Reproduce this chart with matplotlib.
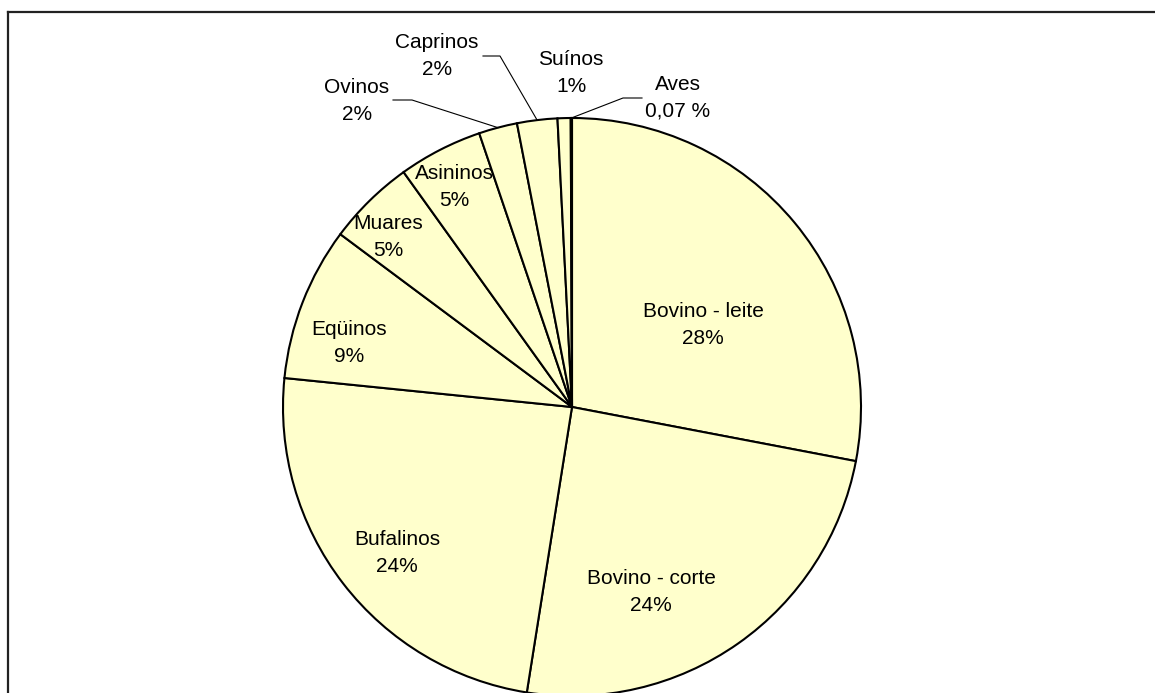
import matplotlib.pyplot as plt
import numpy as np

plt.rcParams['font.family'] = ['Liberation Sans', 'DejaVu Sans']

categories = ['Bovino - leite', 'Bovino - corte', 'Bufalinos', 'Eqüinos', 'Muares',
              'Asininos', 'Ovinos', 'Caprinos', 'Suínos', 'Aves']
shares = [28.0, 24.5, 24.1, 8.6, 4.9, 4.7, 2.15, 2.25, 0.73, 0.07]

# layout in pixel coordinates (origin top-left)
W, H = 1155, 693
CX, CY, R = 572, 407, 289
label_pos = [(703, 325), (651, 592), (397, 553), (349, 343), (388, 237),
             (454, 187), (357, 101), (437, 56), (571, 73), (678, 98)]
# elbow points for the outside labels: (start of horizontal, elbow)
leaders = {'Ovinos': [(393, 100), (412, 100)],
           'Caprinos': [(483, 56), (500, 56)],
           'Aves': [(642, 98), (623, 98)]}


def fmt(v):
    if v < 0.5:
        return f"{v:.2f}".replace('.', ',') + ' %'
    return f"{round(v):.0f}%"


def px(x, y):
    return x, H - y


fig = plt.figure(figsize=(W / 100, H / 100), dpi=100)
ax = fig.add_axes([0, 0, 1, 1])

wedges, _ = ax.pie(shares, startangle=90, counterclock=False,
                   center=px(CX, CY), radius=R,
                   colors=['#FFFFCC'] * len(shares),
                   wedgeprops=dict(edgecolor='black', linewidth=1.5))
ax.set_xlim(0, W)
ax.set_ylim(0, H)
ax.set_aspect('equal')
ax.axis('off')

for w, name, v, (lx, ly) in zip(wedges, categories, shares, label_pos):
    ax.text(*px(lx, ly), f"{name}\n{fmt(v)}", ha='center', va='center',
            fontsize=15, linespacing=1.5)
    if name in leaders:
        mid = np.deg2rad((w.theta1 + w.theta2) / 2)
        ex, ey = w.center[0] + R * np.cos(mid), w.center[1] + R * np.sin(mid)
        pts = [px(*p) for p in leaders[name]] + [(ex, ey)]
        xs, ys = zip(*pts)
        ax.plot(xs, ys, color='black', linewidth=0.8)

# chart area border (top and left edges visible)
fig.add_artist(plt.Line2D([8 / W, 8 / W], [0, 1 - 12 / H], color='#222222',
                          linewidth=1.6, transform=fig.transFigure))
fig.add_artist(plt.Line2D([8 / W, 1], [1 - 12 / H, 1 - 12 / H], color='#222222',
                          linewidth=1.6, transform=fig.transFigure))

fig.savefig('out.png', dpi=100, facecolor='white')
